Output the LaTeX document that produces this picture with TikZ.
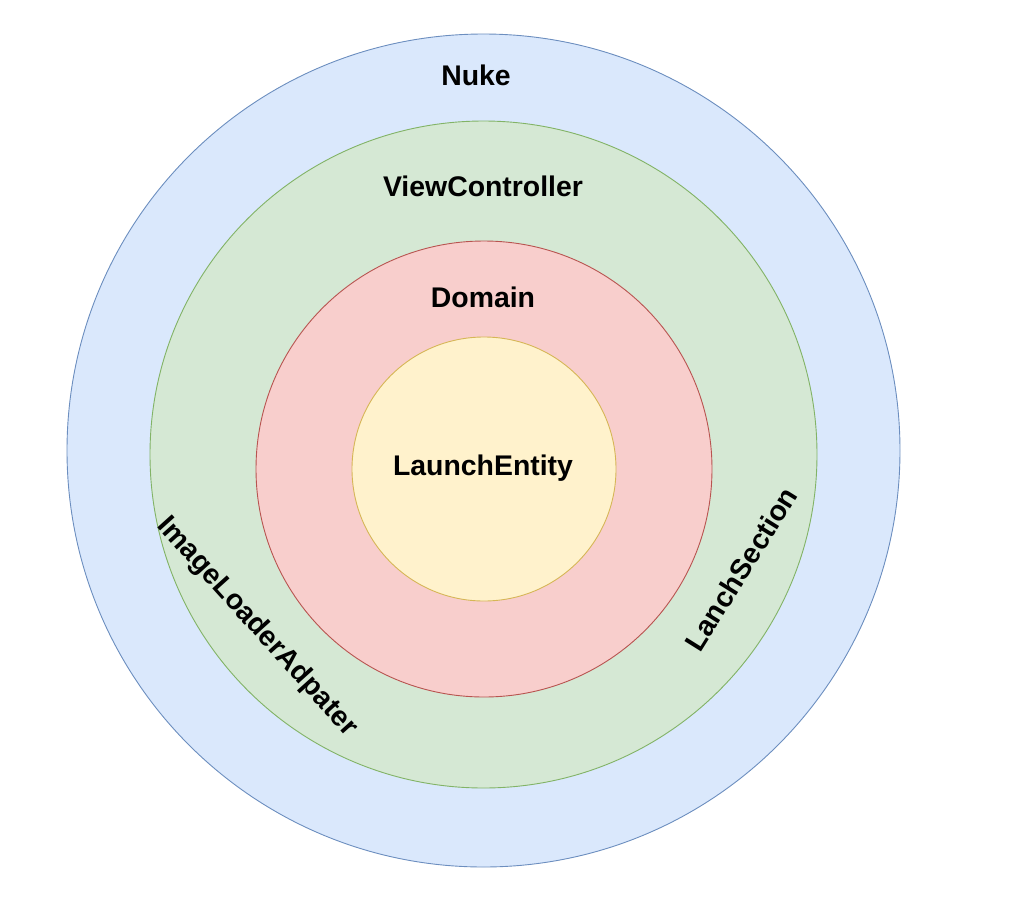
\documentclass[tikz,border=0pt]{standalone}
\usepackage{fontspec}
\setmainfont{Liberation Sans}
\definecolor{bfill}{HTML}{DAE8FC}\definecolor{bline}{HTML}{6C8EBF}
\definecolor{gfill}{HTML}{D5E8D4}\definecolor{gline}{HTML}{82B366}
\definecolor{rfill}{HTML}{F8CECC}\definecolor{rline}{HTML}{B85450}
\definecolor{yfill}{HTML}{FFF2CC}\definecolor{yline}{HTML}{D6B656}
\begin{document}
\begin{tikzpicture}[x=1pt,y=-1pt,
  ring/.style={circle,inner sep=0pt,line width=0.9pt},
  lbl/.style={font=\fontsize{28.4}{30}\selectfont\bfseries,inner sep=0pt}]
\useasboundingbox (0,0) rectangle (1034,914);
\node[ring,draw=bline,fill=bfill,minimum size=833pt] (nuke) at (483.5,450.5) {};
\node[ring,draw=gline,fill=gfill,minimum size=667pt] (vc) at (483.5,454.5) {};
\node[ring,draw=rline,fill=rfill,minimum size=456pt] (dom) at (484,469) {};
\node[ring,draw=yline,fill=yfill,minimum size=264pt] (ent) at (484,469) {};
\node[lbl] (tnuke) at (476,75) {Nuke};
\node[lbl] (tvc) at (483,186) {ViewController};
\node[lbl] (tdom) at (483,297) {Domain};
\node[lbl] (tent) at (483,468) {LaunchEntity};
\node[lbl,rotate=-48] (tila) at (257,627) {ImageLoaderAdpater};
\node[lbl,rotate=58] (tls) at (741,569) {LanchSection};
\end{tikzpicture}
\end{document}
